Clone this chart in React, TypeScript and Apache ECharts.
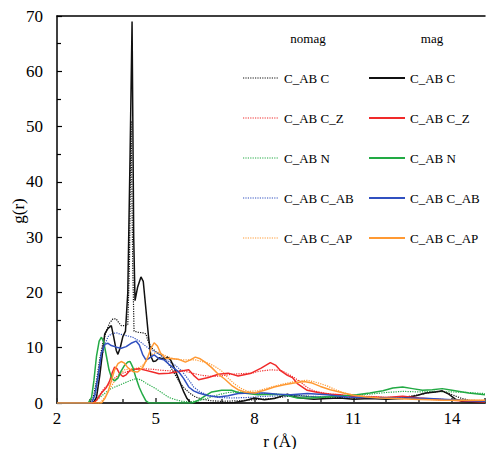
import React, { useEffect, useRef } from "react";
import * as echarts from "echarts";

const xTicks = [2, 5, 8, 11, 14];
const yTicks = [0, 10, 20, 30, 40, 50, 60, 70];

const nomagC = [[2,0],[3.0,0],[3.1,1],[3.2,4],[3.3,8],[3.4,11],[3.5,13],[3.6,14.5],[3.7,15.2],[3.8,15.2],[3.88,14.5],[3.95,14],[4.05,14],[4.15,14.2],[4.2,25],[4.25,51],[4.3,25],[4.34,13],[4.45,12.8],[4.6,12.7],[4.7,12.5],[4.75,11.5],[4.82,10.5],[4.9,9.8],[5.0,9.3],[5.15,8.7],[5.3,7.8],[5.45,6.5],[5.6,5],[5.75,3.5],[5.9,2.5],[6.05,1.7],[6.2,1.1],[6.4,0.7],[6.7,0.4],[7.0,0.3],[7.5,0.4],[8,0.6],[8.5,0.8],[9.0,1.2],[9.3,1.4],[9.6,1.2],[10,1],[10.5,1],[11,0.9],[11.5,1],[12,0.9],[12.5,1],[13,1.5],[13.4,2],[13.7,2.1],[14,1.5],[14.3,0.8],[14.6,0.4],[15,0.3]];
const magC = [[2,0],[3.1,0],[3.2,1],[3.3,5],[3.4,10],[3.45,12.5],[3.55,13.5],[3.65,14],[3.72,12],[3.8,9.5],[3.85,8.8],[3.92,10],[4.0,12],[4.08,13],[4.15,20],[4.22,45],[4.28,69],[4.33,30],[4.37,18.5],[4.45,21],[4.55,22.8],[4.62,22],[4.7,17],[4.78,12],[4.85,8.5],[4.92,7.5],[5.0,7.6],[5.1,8.2],[5.25,7.9],[5.35,8.3],[5.45,7.8],[5.55,6.5],[5.65,5],[5.75,3.5],[5.85,2],[5.95,0.8],[6.05,0.1],[6.2,0],[7.0,0],[7.4,0.1],[7.7,0.4],[8.0,0.9],[8.3,0.6],[8.6,0.8],[8.8,1.2],[9.0,1.6],[9.15,1.2],[9.4,0.9],[9.8,0.7],[10.2,0.8],[10.6,0.9],[11.0,0.7],[11.5,0.8],[12.0,0.7],[12.5,0.8],[12.9,1.3],[13.2,1.8],[13.5,2],[13.7,2.2],[13.9,1.6],[14.1,0.7],[14.3,0.3],[14.6,0.2],[15,0.2]];
const nomagCZ = [[2,0],[3.15,0],[3.3,1.5],[3.45,2.8],[3.6,3.5],[3.75,4.5],[3.9,5.2],[4.1,5.6],[4.3,6.0],[4.6,6.2],[4.9,6.1],[5.2,5.9],[5.5,5.8],[5.8,5.9],[6.1,5.4],[6.4,5.0],[6.7,4.8],[7.0,4.9],[7.3,5.2],[7.6,5.3],[7.9,5.4],[8.2,5.8],[8.5,6.0],[8.8,5.9],[9.0,5.3],[9.2,4.6],[9.4,3.8],[9.6,2.8],[9.8,2.2],[10.1,1.8],[10.5,1.5],[11,1.3],[11.5,1.2],[12,1.0],[12.5,1.0],[13,0.8],[13.5,0.6],[14,0.5],[14.5,0.4],[15,0.3]];
const magCZ = [[2,0],[3.1,0],[3.2,0.5],[3.35,1.8],[3.5,2.8],[3.6,4],[3.68,5.5],[3.75,6.5],[3.82,6.2],[3.9,5.3],[4.0,4.8],[4.1,5.1],[4.2,5.8],[4.35,6.1],[4.5,6.2],[4.7,5.9],[4.9,5.6],[5.1,5.3],[5.4,5.4],[5.7,5.7],[6.0,6.0],[6.15,5.0],[6.3,4.2],[6.6,4.6],[6.9,5.2],[7.2,5.4],[7.5,4.9],[7.9,5.4],[8.2,6.3],[8.48,7.3],[8.65,6.8],[8.8,5.8],[9.0,5.0],[9.15,4.6],[9.3,3.5],[9.6,2.3],[10.0,1.8],[10.3,1.6],[10.6,1.5],[10.9,1.2],[11.2,1.0],[11.6,1.1],[12.0,1.0],[12.5,1.2],[13,0.9],[13.5,0.7],[14,0.5],[14.5,0.3],[15,0.2]];
const nomagN = [[2,0],[3.05,0],[3.2,0.5],[3.4,1.5],[3.6,2.5],[3.8,3.0],[4.0,3.5],[4.2,4.0],[4.4,4.4],[4.55,4.2],[4.7,3.6],[4.85,3.1],[5.0,2.6],[5.2,1.8],[5.4,1.0],[5.6,0.6],[5.8,0.3],[6.0,0.2],[6.3,0.4],[6.6,0.9],[6.9,1.5],[7.2,1.9],[7.5,2.0],[7.9,1.9],[8.3,1.7],[8.7,1.6],[9.1,1.4],[9.5,1.2],[10,1.1],[10.5,1.3],[11,1.4],[11.5,1.6],[12,1.9],[12.5,2.1],[13,2.0],[13.5,2.1],[14,2.0],[14.5,1.9],[15,1.7]];
const magN = [[2,0],[2.95,0],[3.05,1],[3.12,4],[3.2,8.5],[3.28,11.2],[3.35,11.9],[3.42,11],[3.5,8.5],[3.58,6],[3.66,4.5],[3.75,4.0],[3.85,4.5],[3.95,5.8],[4.05,6.8],[4.15,7.4],[4.22,7.5],[4.3,6.5],[4.4,4.5],[4.5,2.8],[4.6,1.5],[4.7,0.4],[4.8,0],[6.1,0],[6.3,0.5],[6.5,1.3],[6.7,2.0],[7.0,2.3],[7.3,2.3],[7.5,1.9],[7.8,1.7],[8.1,1.5],[8.5,1.6],[8.9,1.5],[9.3,0.9],[9.7,0.9],[10.2,1.1],[10.7,1.3],[11.1,1.5],[11.5,1.8],[11.9,2.2],[12.2,2.7],[12.5,2.9],[12.8,2.6],[13.1,2.3],[13.4,2.4],[13.7,2.6],[14.0,2.3],[14.5,1.8],[15,1.5]];
const nomagCAB = [[2,0],[3.05,0],[3.15,1],[3.25,4.5],[3.35,8],[3.45,10.5],[3.55,12],[3.65,12.5],[3.8,12.7],[3.95,12.4],[4.1,12.2],[4.3,11.9],[4.5,11.2],[4.65,10.5],[4.8,9.8],[5.0,9.2],[5.2,8.4],[5.4,7.5],[5.6,6.8],[5.8,5.7],[6.0,4.2],[6.15,2.9],[6.35,2.0],[6.6,1.4],[6.9,1.0],[7.3,0.9],[7.8,1.0],[8.3,1.2],[8.8,1.3],[9.3,1.3],[9.8,1.2],[10.4,1.1],[11,1.0],[11.6,0.9],[12.2,0.9],[12.8,0.8],[13.4,0.7],[14,0.6],[14.5,0.5],[15,0.4]];
const magCAB = [[2,0],[3.05,0],[3.15,1.5],[3.25,5],[3.35,9],[3.45,10.6],[3.55,10.8],[3.65,10.4],[3.8,10.1],[3.95,9.9],[4.1,10.2],[4.25,10.8],[4.4,11.2],[4.5,10.5],[4.6,8.8],[4.7,7.8],[4.8,8.1],[4.95,8.7],[5.1,8.0],[5.25,7.8],[5.4,7.0],[5.55,6.3],[5.7,5.6],[5.85,4.4],[6.0,2.9],[6.15,2.2],[6.3,1.8],[6.6,1.3],[6.9,1.1],[7.2,1.3],[7.5,1.7],[7.9,1.8],[8.3,1.8],[8.7,1.6],[9.1,1.5],[9.6,1.7],[10.2,1.5],[10.8,1.1],[11.4,1.0],[12,0.9],[12.7,0.9],[13.3,0.8],[14,0.6],[14.5,0.4],[15,0.3]];
const nomagCAP = [[2,0],[3.3,0],[3.45,1],[3.6,2.5],[3.75,4],[3.9,5.2],[4.05,6],[4.25,6.2],[4.45,6.3],[4.6,6.8],[4.75,7.8],[4.9,8.8],[5.05,9.3],[5.2,8.8],[5.4,8.3],[5.6,7.9],[5.8,7.8],[6.0,7.8],[6.2,7.8],[6.4,7.5],[6.6,7.2],[6.8,6.6],[7.0,5.8],[7.2,4.5],[7.4,3.4],[7.6,2.6],[7.8,2.1],[8.1,2.2],[8.4,2.7],[8.7,3.2],[9.0,3.6],[9.3,4.0],[9.6,4.1],[9.9,3.7],[10.2,3.1],[10.5,2.3],[10.8,1.7],[11.2,1.3],[11.6,1.0],[12,0.9],[12.5,0.8],[13,0.7],[13.5,0.6],[14,0.5],[15,0.5]];
const magCAP = [[2,0],[3.35,0],[3.45,0.8],[3.55,2],[3.65,4],[3.75,6],[3.85,7.1],[3.95,7.5],[4.05,7.2],[4.15,6.4],[4.3,5.7],[4.45,5.6],[4.6,6.4],[4.75,8.2],[4.85,9.8],[4.95,10.9],[5.05,10.3],[5.15,9],[5.3,8.1],[5.5,8.0],[5.7,7.9],[5.9,7.4],[6.05,7.8],[6.2,8.3],[6.35,8.0],[6.5,7.4],[6.7,6.4],[6.9,5.2],[7.1,4.3],[7.3,3.2],[7.5,2.4],[7.7,2.0],[8.0,1.8],[8.3,2.3],[8.6,2.9],[8.9,3.3],[9.2,3.6],[9.5,3.9],[9.75,3.6],[10.0,3.0],[10.3,2.4],[10.7,1.8],[11.0,1.4],[11.4,1.1],[11.8,0.9],[12.3,0.8],[12.8,0.7],[13.3,0.6],[13.8,0.5],[14.3,0.5],[15,0.5]];

const seriesLabels = ["C_AB C", "C_AB C_Z", "C_AB N", "C_AB C_AB", "C_AB C_AP"];
const seriesColors = ["#111111", "#f02a2a", "#22aa44", "#3050c0", "#ff9933"];
const nomagData = [nomagC, nomagCZ, nomagN, nomagCAB, nomagCAP];
const magData = [magC, magCZ, magN, magCAB, magCAP];
const columnHeaders = ["nomag", "mag"];

const FONT = "Liberation Serif, Times New Roman, serif";

export default function App() {
  const ref = useRef<HTMLDivElement>(null);
  useEffect(() => {
    if (!ref.current) return;
    const chart = echarts.init(ref.current, undefined, { renderer: "svg" });
    const series: any[] = [];
    nomagData.forEach((d, i) => {
      series.push({
        name: "nomag " + seriesLabels[i],
        type: "line",
        data: d,
        showSymbol: false,
        symbol: "none",
        lineStyle: { color: seriesColors[i], width: 1.2, type: [1.2, 1.2] },
        z: 2,
      });
    });
    magData.forEach((d, i) => {
      series.push({
        name: "mag " + seriesLabels[i],
        type: "line",
        data: d,
        showSymbol: false,
        symbol: "none",
        lineStyle: { color: seriesColors[i], width: 1.5 },
        z: 3,
      });
    });
    const rowY = [78, 118, 158, 198, 238];
    const graphic: any[] = [
      { type: "text", x: 308, y: 38, style: { text: columnHeaders[0], font: `13px ${FONT}`, fill: "#000", align: "center", verticalAlign: "middle" } },
      { type: "text", x: 432, y: 38, style: { text: columnHeaders[1], font: `13px ${FONT}`, fill: "#000", align: "center", verticalAlign: "middle" } },
      { type: "text", x: 18, y: 211, rotation: Math.PI / 2, style: { text: "g(r)", font: `17px ${FONT}`, fill: "#000", align: "center", verticalAlign: "middle" } },
      { type: "text", x: 280, y: 441, style: { text: "r (Å)", font: `17px ${FONT}`, fill: "#000", align: "center", verticalAlign: "middle" } },
    ];
    seriesLabels.forEach((lab, i) => {
      graphic.push({ type: "line", shape: { x1: 243, y1: rowY[i], x2: 278, y2: rowY[i] }, style: { stroke: seriesColors[i], lineWidth: 1.2, lineDash: [1.2, 1.2] } });
      graphic.push({ type: "text", x: 284, y: rowY[i], style: { text: lab, font: `13px ${FONT}`, fill: "#000", verticalAlign: "middle" } });
      graphic.push({ type: "line", shape: { x1: 369, y1: rowY[i], x2: 405, y2: rowY[i] }, style: { stroke: seriesColors[i], lineWidth: 2 } });
      graphic.push({ type: "text", x: 410, y: rowY[i], style: { text: lab, font: `13px ${FONT}`, fill: "#000", verticalAlign: "middle" } });
    });
    chart.setOption({
      animation: false,
      backgroundColor: "#fff",
      grid: { left: 57, right: 0, top: 16, bottom: 46, containLabel: false },
      xAxis: [
        {
          type: "value", min: 2, max: 15, interval: 3,
          axisLine: { show: true, lineStyle: { color: "#333", width: 2 } },
          axisTick: { show: true, inside: true, length: 5, lineStyle: { color: "#333", width: 1.5 } },
          minorTick: { show: true, splitNumber: 3, length: 4, lineStyle: { color: "#333", width: 1.5 } },
          axisLabel: { fontFamily: FONT, fontSize: 17, color: "#000", margin: 7, formatter: (v: number) => (xTicks.includes(v) ? String(v) : "") },
          splitLine: { show: false },
        },
        {
          type: "value", min: 2, max: 15, position: "top",
          axisLine: { show: true, lineStyle: { color: "#000", width: 1.5 } },
          axisTick: { show: false }, axisLabel: { show: false }, splitLine: { show: false },
        },
      ],
      yAxis: {
        type: "value", min: 0, max: 70, interval: 10,
        axisLine: { show: true, lineStyle: { color: "#000", width: 1.5 } },
        axisTick: { show: true, inside: true, length: 5, lineStyle: { color: "#000", width: 1.2 } },
        minorTick: { show: true, splitNumber: 2, length: 4, lineStyle: { color: "#000", width: 1.2 } },
        axisLabel: { fontFamily: FONT, fontSize: 17, color: "#000", margin: 14, formatter: (v: number) => (yTicks.includes(v) ? String(v) : "") },
        splitLine: { show: false },
      },
      series,
      graphic,
    });
    return () => chart.dispose();
  }, []);
  return <div ref={ref} style={{ width: 488, height: 449, position: "absolute", left: 0, top: 0 }} />;
}
